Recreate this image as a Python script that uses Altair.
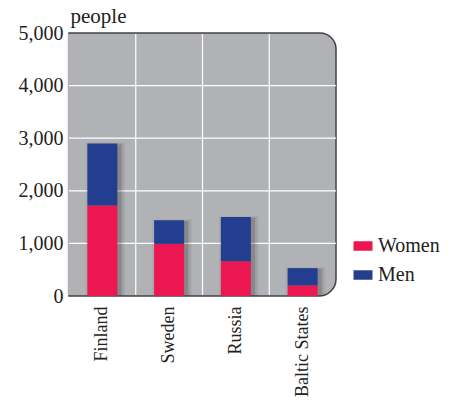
import altair as alt
import pandas as pd

# Data
countries = ["Finland", "Sweden", "Russia", "Baltic States"]
women = [1720, 990, 660, 200]
men = [1180, 450, 840, 330]
groups = ["Women", "Men"]
group_colors = ["#EC1651", "#233E8E"]
y_ticks = [0, 1000, 2000, 3000, 4000, 5000]
grid_values = [1000, 2000, 3000, 4000]

W, H = 267, 263
FONT = "Liberation Serif"
BG = "#B1B2B6"

rows = []
for c, w, m in zip(countries, women, men):
    rows.append({"country": c, "group": "Women", "people": w, "rank": 0})
    rows.append({"country": c, "group": "Men", "people": m, "rank": 1})
df = pd.DataFrame(rows)
totals = pd.DataFrame({"country": countries,
                       "total": [w + m for w, m in zip(women, men)],
                       "zero": 0})

x_scale = alt.Scale(domain=countries, paddingInner=0, paddingOuter=0)
y_scale = alt.Scale(domain=[0, 5000], nice=False)

x_axis = alt.Axis(title=None, labelAngle=-90, labelFont=FONT, labelFontSize=18,
                  labelColor="#222222", labelPadding=10, ticks=False,
                  domain=False, grid=False, labelLimit=200)
y_axis = alt.Axis(title="people", values=y_ticks,
                  labelExpr="format(datum.value, ',d')", labelFont=FONT,
                  labelFontSize=20, labelColor="#222222", labelPadding=6,
                  ticks=False, domain=False, grid=False,
                  titleAngle=0, titleAlign="left", titleBaseline="alphabetic",
                  titleX=1, titleY=-11, titleFont=FONT, titleFontSize=21,
                  titleFontWeight="normal", titleColor="#222222")

one = pd.DataFrame({"a": [0]})

# Panel background with rounded right-hand corners
panel = alt.Chart(one).mark_rect(
    color=BG, stroke="#444444", strokeWidth=1.5,
    cornerRadiusTopRight=16, cornerRadiusBottomRight=17,
).encode(x=alt.value(0), x2=alt.value(W), y=alt.value(0), y2=alt.value(H))

# Hide the panel's left edge stroke
left_edge = alt.Chart(one).mark_rule(color=BG, strokeWidth=2.5).encode(
    x=alt.value(0), y=alt.value(1), y2=alt.value(H - 1))

# White gridlines
h_grid = alt.Chart(pd.DataFrame({"v": grid_values})).mark_rule(
    color="white", strokeWidth=1.2
).encode(y=alt.Y("v:Q", scale=y_scale, axis=y_axis))

v_grid = alt.Chart(pd.DataFrame({"country": countries[1:]})).mark_rule(
    color="white", strokeWidth=1.2
).encode(
    x=alt.X("country:N", scale=x_scale, axis=x_axis, bandPosition=0),
    y=alt.value(1), y2=alt.value(H - 1),
)

# Soft drop shadows behind each stacked bar
shadows = []
for size, xo, yo, op in [(32, 3, 1, 0.20), (36, 3, 0, 0.10), (40, 3, -1, 0.06)]:
    shadows.append(
        alt.Chart(totals).mark_bar(size=size, xOffset=xo, yOffset=yo,
                                   color="#333333", opacity=op, clip=True)
        .encode(
            x=alt.X("country:N", scale=x_scale, axis=x_axis),
            y=alt.Y("total:Q", scale=y_scale, axis=y_axis, stack=None),
            y2=alt.Y2("zero:Q"),
        )
    )

bars = alt.Chart(df).mark_bar(size=30).encode(
    x=alt.X("country:N", scale=x_scale, axis=x_axis),
    y=alt.Y("people:Q", stack="zero", scale=y_scale, axis=y_axis),
    color=alt.Color(
        "group:N",
        scale=alt.Scale(domain=groups, range=group_colors),
        legend=alt.Legend(
            title=None, orient="none", legendX=284, legendY=203,
            symbolType="M-1,-0.5H1V0.5H-1Z", symbolSize=361,
            symbolStrokeWidth=0, symbolOpacity=1,
            labelFont=FONT, labelFontSize=20, labelColor="#222222",
            labelOffset=5, rowPadding=9, padding=0,
        ),
    ),
    order=alt.Order("rank:Q"),
)

chart = alt.layer(panel, left_edge, h_grid, v_grid, *shadows, bars).properties(
    width=W, height=H,
    autosize=alt.AutoSizeParams(type="none"),
    padding={"left": 69, "top": 33, "right": 119, "bottom": 105},
    background="white",
).configure_view(stroke=None)

chart.save("out.html", embed_options={"renderer": "svg", "actions": False})
